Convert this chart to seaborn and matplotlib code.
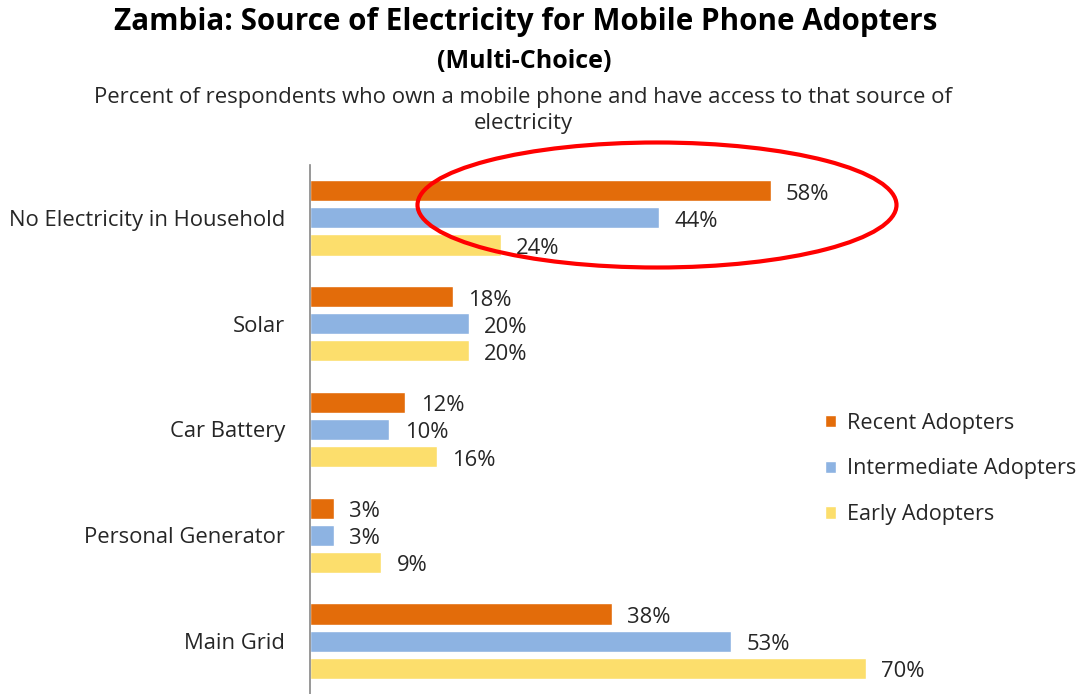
import matplotlib
matplotlib.use("Agg")
import matplotlib.pyplot as plt
from matplotlib.patches import Ellipse
import seaborn as sns
import pandas as pd

categories = ["No Electricity in Household", "Solar", "Car Battery",
              "Personal Generator", "Main Grid"]
series_names = ["Recent Adopters", "Intermediate Adopters", "Early Adopters"]
recent = [58, 18, 12, 3, 38]
intermediate = [44, 20, 10, 3, 53]
early = [24, 20, 16, 9, 70]
colors = ["#E36C0A", "#8DB3E2", "#FCDE6C"]

rows = []
for name, vals in zip(series_names, [recent, intermediate, early]):
    for c, v in zip(categories, vals):
        rows.append({"category": c, "series": name, "value": v})
df = pd.DataFrame(rows)

sns.set_theme(style="white")
plt.rcParams["font.family"] = ["Open Sans", "DejaVu Sans"]

W, H = 1081, 694
fig = plt.figure(figsize=(W / 100, H / 100), dpi=100)
ax = fig.add_axes([310 / W, 0, 556 / W, (694 - 165) / H])

sns.barplot(data=df, y="category", x="value", hue="series", order=categories,
            hue_order=series_names, palette=colors, orient="h",
            width=0.77, gap=0.22, saturation=1, ax=ax, legend=True)

ax.set_xlim(0, 70)
ax.set_ylim(4.5, -0.5)
for cont in ax.containers:
    texts = ax.bar_label(cont, labels=[f"{int(v)}%" for v in cont.datavalues],
                         padding=11, fontsize=15.8, color="#262626", clip_on=False)
    for t in texts:
        t.xyann = (11, -2.5)

for s in ["top", "right", "bottom"]:
    ax.spines[s].set_visible(False)
ax.spines["left"].set_color("#868686")
ax.spines["left"].set_linewidth(1.2)
ax.set_xticks([])
ax.set_xlabel("")
ax.set_ylabel("")
ax.set_yticks(range(len(categories)))
ax.set_yticklabels(categories, fontsize=15.8, color="#262626")
ax.tick_params(axis="y", which="major", length=0, pad=18)
ax.set_yticks([i - 0.5 for i in range(len(categories) + 1)], minor=True)
ax.tick_params(axis="y", which="minor", length=7, width=1.2, color="#868686",
               direction="out")

leg = ax.legend(loc="upper left", bbox_to_anchor=(825 / W, 1 - 412.5 / H),
                bbox_transform=fig.transFigure, frameon=False, fontsize=15.6,
                handlelength=0.5, handleheight=0.5, handletextpad=0.5,
                labelspacing=1.15, borderaxespad=0, borderpad=0)
for t in leg.get_texts():
    t.set_color("#262626")

fig.text(526 / W, 1 - 22 / H, "Zambia: Source of Electricity for Mobile Phone Adopters",
         ha="center", va="center", fontsize=21.3, fontweight="bold", color="black")
fig.text(524 / W, 1 - 61 / H, "(Multi-Choice)", ha="center", va="center",
         fontsize=18, fontweight="bold", color="black")
fig.text(523 / W, 1 - 97 / H,
         "Percent of respondents who own a mobile phone and have access to that source of",
         ha="center", va="center", fontsize=15.9, color="#262626")
fig.text(523 / W, 1 - 124 / H, "electricity", ha="center", va="center",
         fontsize=15.9, color="#262626")

ell = Ellipse((657 / W, 1 - 205 / H), 479 / W, 125 / H, fill=False,
              edgecolor="#FF0000", linewidth=3, transform=fig.transFigure, zorder=10)
fig.add_artist(ell)

fig.savefig("out.png", dpi=100)
